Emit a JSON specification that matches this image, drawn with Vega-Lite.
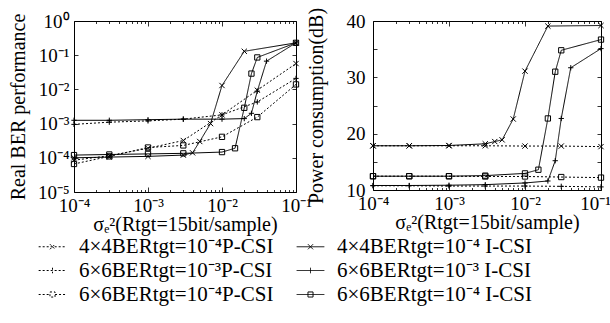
{
  "$schema": "https://vega.github.io/schema/vega-lite/v6.json",
  "padding": {"left": 7, "top": 6, "right": 0, "bottom": 0},
  "bounds": "flush",
  "spacing": 77,
  "config": {
    "font": "Liberation Serif",
    "view": {"stroke": "black", "strokeWidth": 1},
    "axis": {
      "labelFont": "Liberation Serif", "titleFont": "Liberation Serif",
      "labelFontSize": 19, "titleFontSize": 20, "titleFontWeight": "normal",
      "labelColor": "black", "titleColor": "black", "grid": false, "domain": false,
      "tickColor": "black", "tickWidth": 0.8, "labelFlush": false, "labelOverlap": false,
      "labelPadding": 9
    },
    "legend": {
      "labelFont": "Liberation Serif", "labelFontSize": 21, "labelColor": "black",
      "symbolStrokeColor": "black", "symbolStrokeWidth": 1, "labelLimit": 400
    }
  },
  "datasets": {
    "d": [
      {"p": "L", "s": "A", "x": 0.0001, "y": 0.000085},
      {"p": "L", "s": "A", "x": 0.0003, "y": 0.000115},
      {"p": "L", "s": "A", "x": 0.001, "y": 0.00019},
      {"p": "L", "s": "A", "x": 0.003, "y": 0.00032},
      {"p": "L", "s": "A", "x": 0.01, "y": 0.0018},
      {"p": "L", "s": "A", "x": 0.03, "y": 0.0095},
      {"p": "L", "s": "A", "x": 0.1, "y": 0.057},
      {"p": "L", "s": "B", "x": 0.0001, "y": 0.0001},
      {"p": "L", "s": "B", "x": 0.0003, "y": 0.000105},
      {"p": "L", "s": "B", "x": 0.001, "y": 0.00011},
      {"p": "L", "s": "B", "x": 0.003, "y": 0.00012},
      {"p": "L", "s": "B", "x": 0.004, "y": 0.00014},
      {"p": "L", "s": "B", "x": 0.005, "y": 0.0003},
      {"p": "L", "s": "B", "x": 0.007, "y": 0.001},
      {"p": "L", "s": "B", "x": 0.01, "y": 0.013},
      {"p": "L", "s": "B", "x": 0.02, "y": 0.13},
      {"p": "L", "s": "B", "x": 0.1, "y": 0.23},
      {"p": "L", "s": "C", "x": 0.0001, "y": 0.00095},
      {"p": "L", "s": "C", "x": 0.0003, "y": 0.0011},
      {"p": "L", "s": "C", "x": 0.001, "y": 0.0012},
      {"p": "L", "s": "C", "x": 0.003, "y": 0.00135},
      {"p": "L", "s": "C", "x": 0.01, "y": 0.0018},
      {"p": "L", "s": "C", "x": 0.03, "y": 0.0043},
      {"p": "L", "s": "C", "x": 0.1, "y": 0.021},
      {"p": "L", "s": "D", "x": 0.0001, "y": 0.00125},
      {"p": "L", "s": "D", "x": 0.0003, "y": 0.00125},
      {"p": "L", "s": "D", "x": 0.001, "y": 0.0013},
      {"p": "L", "s": "D", "x": 0.003, "y": 0.00135},
      {"p": "L", "s": "D", "x": 0.01, "y": 0.00135},
      {"p": "L", "s": "D", "x": 0.02, "y": 0.0014},
      {"p": "L", "s": "D", "x": 0.025, "y": 0.002},
      {"p": "L", "s": "D", "x": 0.03, "y": 0.0089},
      {"p": "L", "s": "D", "x": 0.04, "y": 0.067},
      {"p": "L", "s": "D", "x": 0.1, "y": 0.23},
      {"p": "L", "s": "E", "x": 0.0001, "y": 0.000066},
      {"p": "L", "s": "E", "x": 0.0003, "y": 0.00011},
      {"p": "L", "s": "E", "x": 0.001, "y": 0.0002},
      {"p": "L", "s": "E", "x": 0.003, "y": 0.00023},
      {"p": "L", "s": "E", "x": 0.01, "y": 0.00041},
      {"p": "L", "s": "E", "x": 0.03, "y": 0.00155},
      {"p": "L", "s": "E", "x": 0.1, "y": 0.014},
      {"p": "L", "s": "F", "x": 0.0001, "y": 0.00012},
      {"p": "L", "s": "F", "x": 0.0003, "y": 0.000125},
      {"p": "L", "s": "F", "x": 0.001, "y": 0.00013},
      {"p": "L", "s": "F", "x": 0.003, "y": 0.000135},
      {"p": "L", "s": "F", "x": 0.01, "y": 0.000147},
      {"p": "L", "s": "F", "x": 0.015, "y": 0.00019},
      {"p": "L", "s": "F", "x": 0.02, "y": 0.0029},
      {"p": "L", "s": "F", "x": 0.025, "y": 0.029},
      {"p": "L", "s": "F", "x": 0.03, "y": 0.086},
      {"p": "L", "s": "F", "x": 0.1, "y": 0.23},
      {"p": "R", "s": "A", "x": 0.0001, "y": 17.85},
      {"p": "R", "s": "A", "x": 0.0003, "y": 17.85},
      {"p": "R", "s": "A", "x": 0.001, "y": 17.85},
      {"p": "R", "s": "A", "x": 0.003, "y": 17.85},
      {"p": "R", "s": "A", "x": 0.01, "y": 17.8},
      {"p": "R", "s": "A", "x": 0.03, "y": 17.8},
      {"p": "R", "s": "A", "x": 0.1, "y": 17.7},
      {"p": "R", "s": "B", "x": 0.0001, "y": 17.85},
      {"p": "R", "s": "B", "x": 0.0003, "y": 17.85},
      {"p": "R", "s": "B", "x": 0.001, "y": 17.9},
      {"p": "R", "s": "B", "x": 0.003, "y": 18.2},
      {"p": "R", "s": "B", "x": 0.004, "y": 18.6},
      {"p": "R", "s": "B", "x": 0.005, "y": 18.9},
      {"p": "R", "s": "B", "x": 0.007, "y": 22.6},
      {"p": "R", "s": "B", "x": 0.01, "y": 31.1},
      {"p": "R", "s": "B", "x": 0.02, "y": 39.1},
      {"p": "R", "s": "B", "x": 0.1, "y": 39.2},
      {"p": "R", "s": "C", "x": 0.0001, "y": 10.75},
      {"p": "R", "s": "C", "x": 0.0003, "y": 10.75},
      {"p": "R", "s": "C", "x": 0.001, "y": 10.7},
      {"p": "R", "s": "C", "x": 0.003, "y": 10.7},
      {"p": "R", "s": "C", "x": 0.01, "y": 10.7},
      {"p": "R", "s": "C", "x": 0.03, "y": 10.65},
      {"p": "R", "s": "C", "x": 0.1, "y": 10.55},
      {"p": "R", "s": "D", "x": 0.0001, "y": 10.8},
      {"p": "R", "s": "D", "x": 0.0003, "y": 10.8},
      {"p": "R", "s": "D", "x": 0.001, "y": 10.85},
      {"p": "R", "s": "D", "x": 0.003, "y": 10.95},
      {"p": "R", "s": "D", "x": 0.01, "y": 11.25},
      {"p": "R", "s": "D", "x": 0.02, "y": 11.6},
      {"p": "R", "s": "D", "x": 0.025, "y": 15.2},
      {"p": "R", "s": "D", "x": 0.03, "y": 22.7},
      {"p": "R", "s": "D", "x": 0.04, "y": 31.7},
      {"p": "R", "s": "D", "x": 0.1, "y": 35.1},
      {"p": "R", "s": "E", "x": 0.0001, "y": 12.45},
      {"p": "R", "s": "E", "x": 0.0003, "y": 12.45},
      {"p": "R", "s": "E", "x": 0.001, "y": 12.45},
      {"p": "R", "s": "E", "x": 0.003, "y": 12.4},
      {"p": "R", "s": "E", "x": 0.01, "y": 12.4},
      {"p": "R", "s": "E", "x": 0.03, "y": 12.3},
      {"p": "R", "s": "E", "x": 0.1, "y": 12.2},
      {"p": "R", "s": "F", "x": 0.0001, "y": 12.45},
      {"p": "R", "s": "F", "x": 0.0003, "y": 12.45},
      {"p": "R", "s": "F", "x": 0.001, "y": 12.45},
      {"p": "R", "s": "F", "x": 0.003, "y": 12.55},
      {"p": "R", "s": "F", "x": 0.01, "y": 12.95},
      {"p": "R", "s": "F", "x": 0.015, "y": 13.6},
      {"p": "R", "s": "F", "x": 0.02, "y": 22.7},
      {"p": "R", "s": "F", "x": 0.025, "y": 31.0},
      {"p": "R", "s": "F", "x": 0.03, "y": 34.8},
      {"p": "R", "s": "F", "x": 0.1, "y": 36.7}
    ]
  },
  "data": {"name": "d"},
  "hconcat": [
    {
      "width": 222, "height": 171,
      "transform": [{"filter": "datum.p == 'L'"}],
      "layer": [
        {
          "mark": {"type": "line", "color": "black", "strokeWidth": 1},
          "encoding": {
            "x": {"field": "x", "type": "quantitative", "title": "σₑ²(Rtgt=15bit/sample)",
              "scale": {"type": "log", "domain": [0.0001, 0.1], "nice": false},
              "axis": {
                "values": [0.0001,0.0002,0.0003,0.0004,0.0005,0.0006,0.0007,0.0008,0.0009,0.001,0.002,0.003,0.004,0.005,0.006,0.007,0.008,0.009,0.01,0.02,0.03,0.04,0.05,0.06,0.07,0.08,0.09,0.1],
                "labelExpr": "abs(log(datum.value)/LN10 - round(log(datum.value)/LN10)) < 0.001 ? '10' + (datum.value < 0.5 ? '⁻' : '') + ['⁰','¹','²','³','⁴','⁵','⁶','⁷','⁸','⁹'][abs(round(log(datum.value)/LN10))] : ''",
                "tickSize": {"condition": {"test": "abs(log(datum.value)/LN10 - round(log(datum.value)/LN10)) < 0.001", "value": -5}, "value": -2.5},
                "titlePadding": -3
              }},
            "y": {"field": "y", "type": "quantitative", "title": "Real BER performance",
              "scale": {"type": "log", "domain": [0.00001, 1], "nice": false},
              "axis": {
                "values": [0.00001, 0.0001, 0.001, 0.01, 0.1, 1],
                "labelExpr": "'10' + (datum.value < 0.5 ? '⁻' : '') + ['⁰','¹','²','³','⁴','⁵','⁶','⁷','⁸','⁹'][abs(round(log(datum.value)/LN10))]",
                "tickSize": -4, "titlePadding": 9
              }},
            "detail": {"field": "s"},
            "order": {"field": "x"},
            "strokeDash": {"field": "s", "type": "nominal", "legend": null,
              "scale": {"domain": ["A","B","C","D","E","F"], "range": [[2,2],[1,0],[2,2],[1,0],[2,2],[1,0]]}}
          }
        },
        {
          "mark": {"type": "point", "filled": false, "color": "black", "size": 28, "strokeWidth": 1, "opacity": 1},
          "encoding": {
            "x": {"field": "x", "type": "quantitative",
              "axis": {"orient": "top", "labels": false, "title": null,
                "values": [0.0001,0.0002,0.0003,0.0004,0.0005,0.0006,0.0007,0.0008,0.0009,0.001,0.002,0.003,0.004,0.005,0.006,0.007,0.008,0.009,0.01,0.02,0.03,0.04,0.05,0.06,0.07,0.08,0.09,0.1],
                "tickSize": {"condition": {"test": "abs(log(datum.value)/LN10 - round(log(datum.value)/LN10)) < 0.001", "value": -5}, "value": -2.5}}},
            "y": {"field": "y", "type": "quantitative",
              "axis": {"orient": "right", "labels": false, "title": null,
                "values": [0.00001, 0.0001, 0.001, 0.01, 0.1, 1], "tickSize": -4}},
            "shape": {"field": "s", "type": "nominal", "legend": null,
              "scale": {"domain": ["A","B","C","D","E","F"], "range": ["M-1,-1L1,1M-1,1L1,-1","M-1,-1L1,1M-1,1L1,-1","M-1,0L1,0M0,-1L0,1","M-1,0L1,0M0,-1L0,1","M-1,-1L1,-1L1,1L-1,1Z","M-1,-1L1,-1L1,1L-1,1Z"]}}
          }
        },
        {
          "transform": [{"filter": "false"}],
          "mark": {"type": "point", "filled": false, "color": "black", "strokeWidth": 1, "opacity": 1},
          "encoding": {
            "shape": {"field": "s", "type": "nominal",
              "scale": {"domain": ["A","C","E","B","D","F"], "range": ["M-3,0L3,0M-0.55,-0.55L0.55,0.55M-0.55,0.55L0.55,-0.55","M-3,0L3,0M0,-0.6L0,0.6","M-3,0L-0.55,0M0.55,0L3,0M-0.55,-0.55L0.55,-0.55L0.55,0.55L-0.55,0.55Z","M-3,0L3,0M-0.55,-0.55L0.55,0.55M-0.55,0.55L0.55,-0.55","M-3,0L3,0M0,-0.6L0,0.6","M-3,0L3,0M-0.55,-0.55L0.55,-0.55L0.55,0.55L-0.55,0.55Z"]},
              "legend": {
                "title": null, "orient": "none", "legendX": -32, "legendY": 215,
                "columns": 2, "columnPadding": 20, "rowPadding": 2,
                "symbolSize": 85, "labelOffset": 16,
                "labelExpr": "datum.label == 'A' ? '4×4BERtgt=10⁻⁴P-CSI' : datum.label == 'B' ? '4×4BERtgt=10⁻⁴ I-CSI' : datum.label == 'C' ? '6×6BERtgt=10⁻³P-CSI' : datum.label == 'D' ? '6×6BERtgt=10⁻³ I-CSI' : datum.label == 'E' ? '6×6BERtgt=10⁻⁴P-CSI' : '6×6BERtgt=10⁻⁴ I-CSI'"
              }},
            "strokeDash": {"field": "s", "type": "nominal",
              "scale": {"domain": ["A","C","E","B","D","F"], "range": [[2,2],[2,2],[2,2],[1,0],[1,0],[1,0]]},
              "legend": {
                "title": null, "orient": "none", "legendX": -32, "legendY": 215,
                "columns": 2, "columnPadding": 20, "rowPadding": 2,
                "symbolSize": 85, "labelOffset": 16,
                "labelExpr": "datum.label == 'A' ? '4×4BERtgt=10⁻⁴P-CSI' : datum.label == 'B' ? '4×4BERtgt=10⁻⁴ I-CSI' : datum.label == 'C' ? '6×6BERtgt=10⁻³P-CSI' : datum.label == 'D' ? '6×6BERtgt=10⁻³ I-CSI' : datum.label == 'E' ? '6×6BERtgt=10⁻⁴P-CSI' : '6×6BERtgt=10⁻⁴ I-CSI'"
              }}
          }
        }
      ],
      "resolve": {"scale": {"shape": "independent", "strokeDash": "independent"}, "legend": {"shape": "independent", "strokeDash": "independent"}, "axis": {"x": "independent", "y": "independent"}}
    },
    {
      "width": 228, "height": 169,
      "transform": [{"filter": "datum.p == 'R'"}],
      "layer": [
        {
          "mark": {"type": "line", "color": "black", "strokeWidth": 1},
          "encoding": {
            "x": {"field": "x", "type": "quantitative", "title": "σₑ²(Rtgt=15bit/sample)",
              "scale": {"type": "log", "domain": [0.0001, 0.1], "nice": false},
              "axis": {
                "values": [0.0001,0.0002,0.0003,0.0004,0.0005,0.0006,0.0007,0.0008,0.0009,0.001,0.002,0.003,0.004,0.005,0.006,0.007,0.008,0.009,0.01,0.02,0.03,0.04,0.05,0.06,0.07,0.08,0.09,0.1],
                "labelExpr": "abs(log(datum.value)/LN10 - round(log(datum.value)/LN10)) < 0.001 ? '10' + (datum.value < 0.5 ? '⁻' : '') + ['⁰','¹','²','³','⁴','⁵','⁶','⁷','⁸','⁹'][abs(round(log(datum.value)/LN10))] : ''",
                "labelOffset": {"condition": {"test": "datum.value > 0.05", "value": -6}, "value": 0},
                "tickSize": {"condition": {"test": "abs(log(datum.value)/LN10 - round(log(datum.value)/LN10)) < 0.001", "value": -5}, "value": -2.5},
                "titlePadding": -3
              }},
            "y": {"field": "y", "type": "quantitative", "title": "Power consumption(dB)",
              "scale": {"domain": [10, 40], "nice": false},
              "axis": {
                "values": [10, 15, 20, 25, 30, 35, 40],
                "labelExpr": "datum.value % 10 == 0 ? datum.label : ''",
                "tickSize": -4, "titlePadding": 20, "labelPadding": 12
              }},
            "detail": {"field": "s"},
            "order": {"field": "x"},
            "strokeDash": {"field": "s", "type": "nominal", "legend": null,
              "scale": {"domain": ["A","B","C","D","E","F"], "range": [[2,2],[1,0],[2,2],[1,0],[2,2],[1,0]]}}
          }
        },
        {
          "mark": {"type": "point", "filled": false, "color": "black", "size": 28, "strokeWidth": 1, "opacity": 1},
          "encoding": {
            "x": {"field": "x", "type": "quantitative",
              "axis": {"orient": "top", "labels": false, "title": null,
                "values": [0.0001,0.0002,0.0003,0.0004,0.0005,0.0006,0.0007,0.0008,0.0009,0.001,0.002,0.003,0.004,0.005,0.006,0.007,0.008,0.009,0.01,0.02,0.03,0.04,0.05,0.06,0.07,0.08,0.09,0.1],
                "tickSize": {"condition": {"test": "abs(log(datum.value)/LN10 - round(log(datum.value)/LN10)) < 0.001", "value": -5}, "value": -2.5}}},
            "y": {"field": "y", "type": "quantitative",
              "axis": {"orient": "right", "labels": false, "title": null,
                "values": [10, 15, 20, 25, 30, 35, 40], "tickSize": -4}},
            "shape": {"field": "s", "type": "nominal", "legend": null,
              "scale": {"domain": ["A","B","C","D","E","F"], "range": ["M-1,-1L1,1M-1,1L1,-1","M-1,-1L1,1M-1,1L1,-1","M-1,0L1,0M0,-1L0,1","M-1,0L1,0M0,-1L0,1","M-1,-1L1,-1L1,1L-1,1Z","M-1,-1L1,-1L1,1L-1,1Z"]}}
          }
        }
      ],
      "resolve": {"axis": {"x": "independent", "y": "independent"}}
    }
  ],
  "resolve": {"scale": {"shape": "independent", "strokeDash": "independent"}, "legend": {"shape": "independent", "strokeDash": "independent"}}
}
